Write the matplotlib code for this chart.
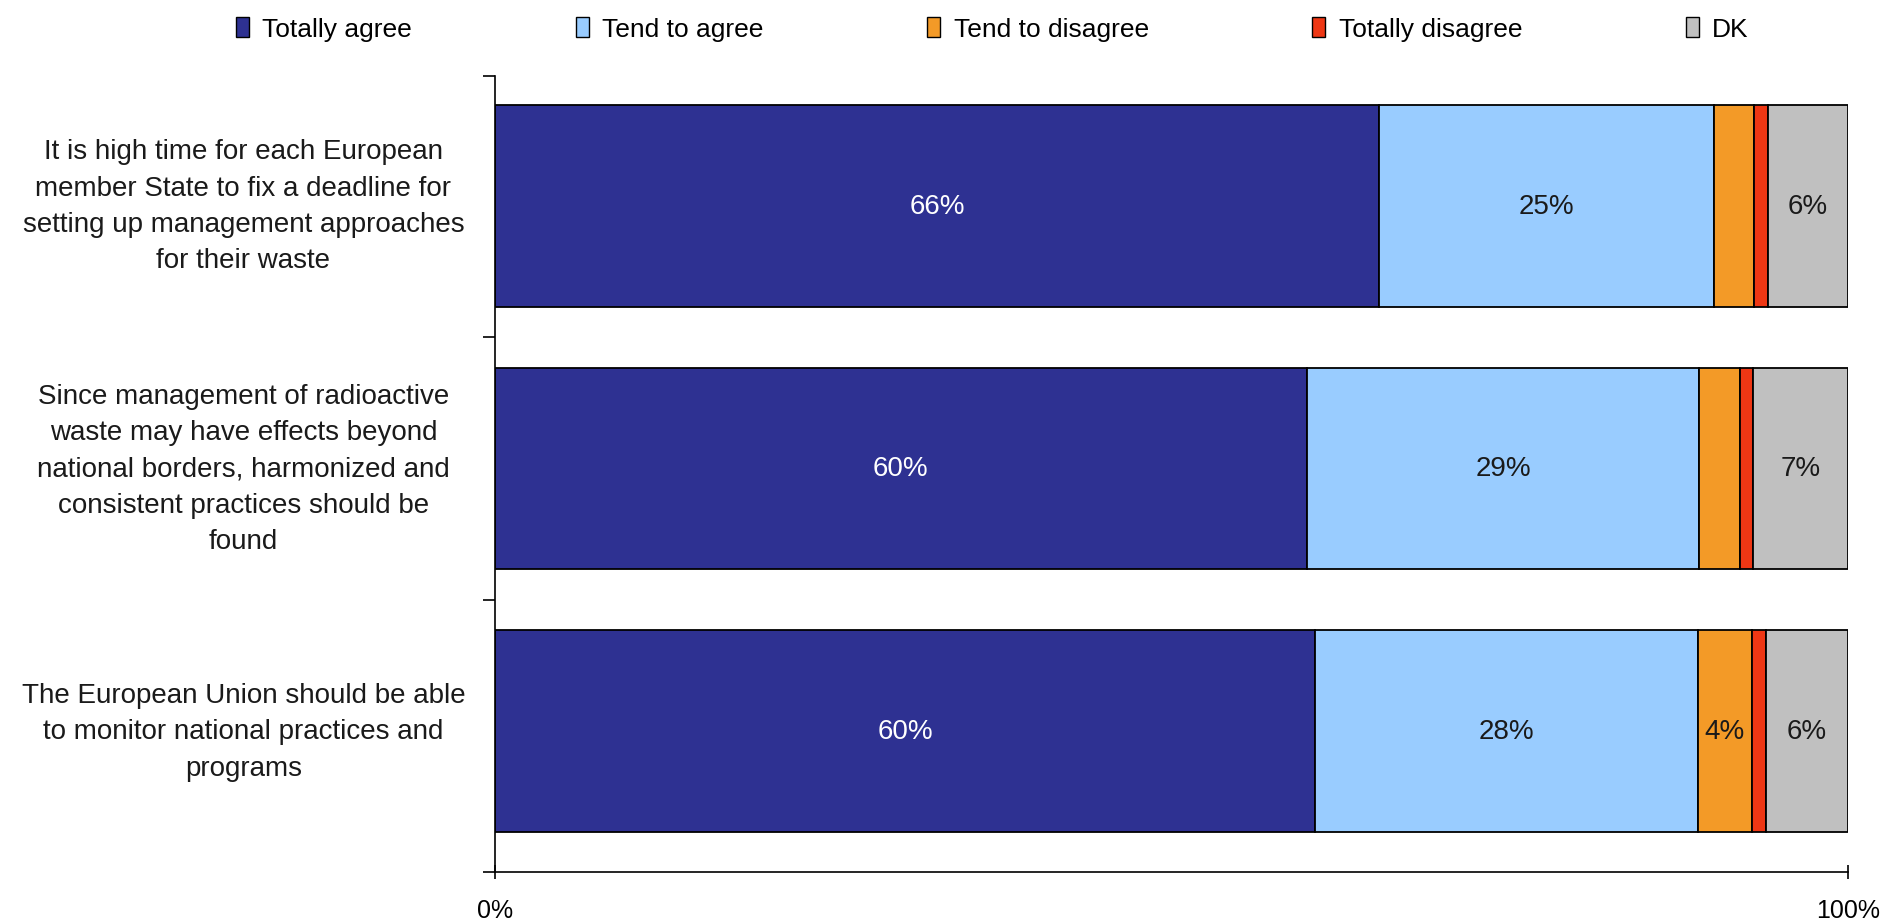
import numpy as np
import matplotlib.pyplot as plt
import matplotlib.transforms as mtransforms
from matplotlib.patches import Patch

plt.rcParams['font.family'] = ['Liberation Sans', 'DejaVu Sans']

statements = [
    "It is high time for each European\nmember State to fix a deadline for\nsetting up management approaches\nfor their waste",
    "Since management of radioactive\nwaste may have effects beyond\nnational borders, harmonized and\nconsistent practices should be\nfound",
    "The European Union should be able\nto monitor national practices and\nprograms",
]
series = ['Totally agree', 'Tend to agree', 'Tend to disagree', 'Totally disagree', 'DK']
totally_agree = [66, 60, 60]
tend_agree = [25, 29, 28]
tend_disagree = [3, 3, 4]
totally_disagree = [1, 1, 1]
dont_know = [6, 7, 6]
colors = ['#2E3192', '#99CCFF', '#F39A27', '#EE3714', '#C0C0C0']
label_colors = ['white', '#1a1a1a', '#1a1a1a', '#1a1a1a', '#1a1a1a']

values = np.array([totally_agree, tend_agree, tend_disagree, totally_disagree, dont_know], dtype=float)
# 100% stacked: each bar is scaled to its own total
shares = values / values.sum(axis=0) * 100

fig = plt.figure(figsize=(18.88, 9.2), dpi=100)
ax = fig.add_axes([0.2622, 0.0511, 0.7166, 0.8652])

y = np.arange(len(statements))
left = np.zeros(len(statements))
for k in range(len(series)):
    ax.barh(y, shares[k], left=left, height=0.768, color=colors[k],
            edgecolor='black', linewidth=1.3, label=series[k])
    for i in range(len(statements)):
        if values[k, i] >= 4:
            ax.text(left[i] + shares[k, i] / 2, y[i], '%d%%' % values[k, i],
                    ha='center', va='center', fontsize=20, color=label_colors[k])
    left += shares[k]

ax.set_xlim(0, 100)
ax.set_ylim(2.536, -0.494)

trans = mtransforms.blended_transform_factory(ax.transAxes, ax.transData)
for i, s in enumerate(statements):
    ax.text(-0.186, y[i], s, transform=trans, ha='center', va='center',
            fontsize=20, linespacing=1.52, color='#1a1a1a')

ax.set_xticks([0, 100], ['0%', '100%'], fontsize=18)
ax.set_yticks([2.536, 1.5, 0.5, -0.494], ['', '', '', ''])
ax.tick_params(axis='x', direction='inout', length=10, width=1.2, pad=14, colors='black')
ax.tick_params(axis='y', direction='out', length=9, width=1.2)
ax.spines['top'].set_visible(False)
ax.spines['right'].set_visible(False)
ax.spines['left'].set_linewidth(1.2)
ax.spines['bottom'].set_linewidth(1.2)

handles = [Patch(facecolor=c, edgecolor='black', linewidth=1.0) for c in colors]
fig.legend(handles, series, loc='center left', bbox_to_anchor=(0.125, 0.967),
           ncol=5, frameon=False, fontsize=19, handlelength=0.5, handleheight=0.75,
           handletextpad=0.5, columnspacing=6.2, borderpad=0, borderaxespad=0)

fig.savefig('out.png', dpi=100)
